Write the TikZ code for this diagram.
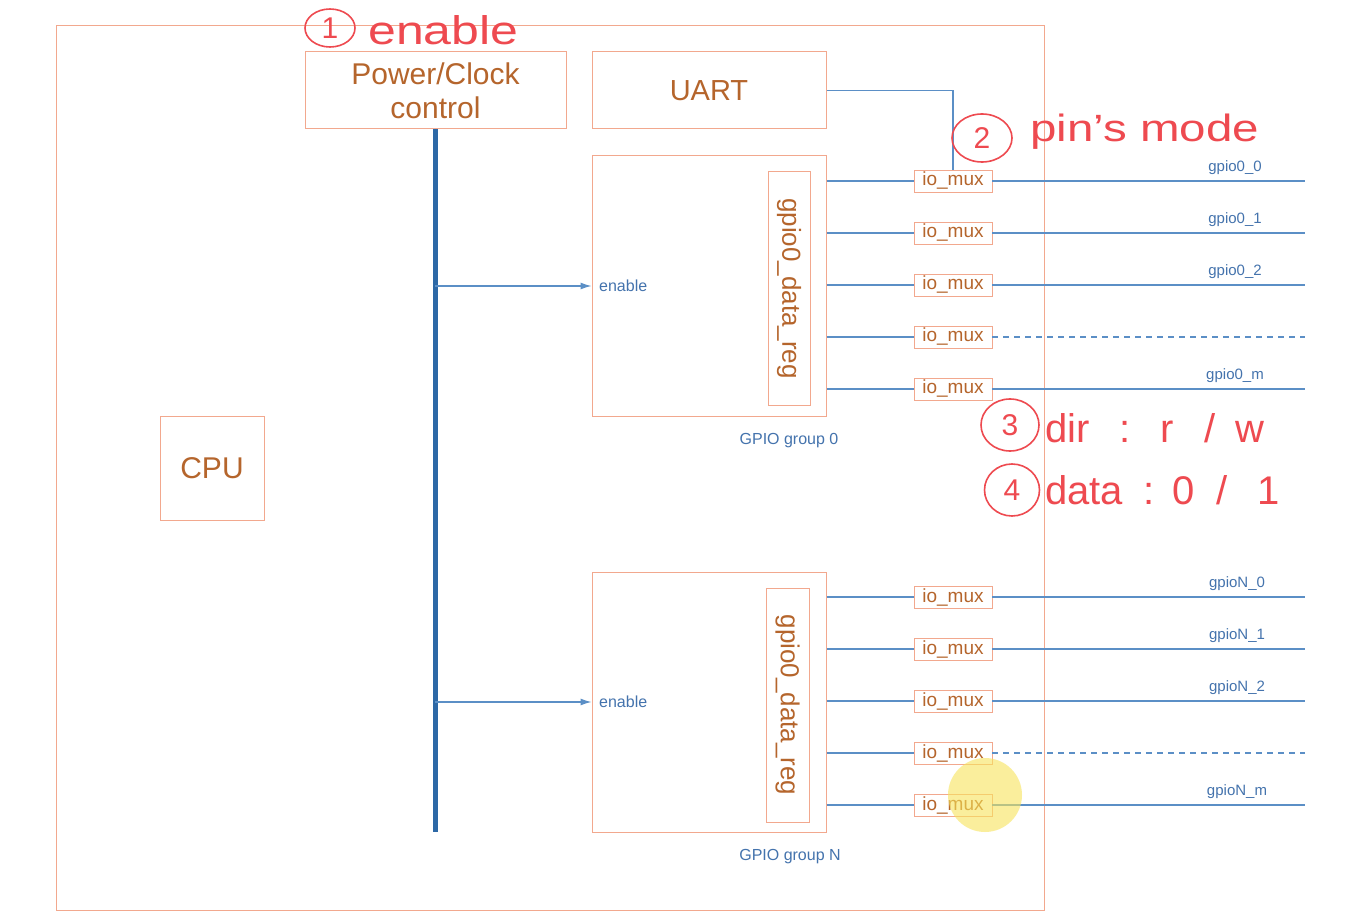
\documentclass[tikz,border=0pt]{standalone}
\usepackage{fontspec}
\usepackage{graphicx}
\setmainfont{Liberation Sans}
\usetikzlibrary{arrows.meta,shapes.geometric}
\definecolor{boxc}{HTML}{F2A88E}
\definecolor{txtc}{HTML}{B5652C}
\definecolor{linec}{HTML}{5B8FC6}
\definecolor{busc}{HTML}{2D68A6}
\definecolor{lblc}{HTML}{4473AD}
\definecolor{redc}{HTML}{EE4A50}
\definecolor{hilite}{HTML}{F7E45A}
\begin{document}
\begin{tikzpicture}[x=1pt,y=-1pt,
  blk/.style={draw=boxc, line width=1pt, text=txtc, inner sep=0pt, align=center},
  mux/.style={draw=boxc, line width=0.9pt, text=txtc, fill=white, minimum width=78pt, minimum height=22pt, inner sep=0pt, font=\fontsize{19}{20}\selectfont},
  wire/.style={draw=linec, line width=1.2pt},
  pinlbl/.style={text=lblc, font=\fontsize{15}{16}\selectfont, inner sep=0pt},
  hand/.style={text=redc, inner sep=0pt, font=\fontsize{40}{42}\selectfont},
  numc/.style={draw=redc, line width=1.6pt, ellipse, inner sep=0pt, text=redc, font=\fontsize{30}{30}\selectfont}]
\useasboundingbox[fill=white] (0,0) rectangle (1355,923);

% outer frame
\node[blk, minimum width=988pt, minimum height=884pt] (outer) at (550,468) {};

% blocks
\node[blk, minimum width=261pt, minimum height=77pt, font=\fontsize{30}{34}\selectfont] (pwr) at (435.5,90.5) {Power/Clock\\control};
\node[blk, minimum width=234pt, minimum height=77pt, font=\fontsize{29}{30}\selectfont] (uart) at (709,90.5) {UART};
\node[blk, minimum width=104pt, minimum height=104pt, font=\fontsize{30}{30}\selectfont] (cpu) at (212,468) {CPU};

\node[blk, minimum width=234pt, minimum height=260pt] (g0) at (709,286) {};
\node[blk, minimum width=42pt, minimum height=233pt, font=\fontsize{26}{26}\selectfont] (reg0) at (789,288.5) {\rotatebox{-90}{gpio0\_data\_reg}};
\node[blk, minimum width=234pt, minimum height=260pt] (gN) at (709,702) {};
\node[blk, minimum width=43pt, minimum height=234pt, font=\fontsize{26}{26}\selectfont] (regN) at (787.5,705) {\rotatebox{-90}{gpio0\_data\_reg}};

\node[pinlbl, font=\fontsize{16}{16}\selectfont] (g0lbl) at (789,441) {GPIO group 0};
\node[pinlbl, font=\fontsize{16}{16}\selectfont] (gNlbl) at (790,857) {GPIO group N};

% bus
\coordinate (busbot) at (435,832);
\coordinate (bus0) at (435,286);
\coordinate (busN) at (435,702);
\draw[busc, line width=5pt] (pwr.south -| busbot) -- (busbot);
\draw[wire, -{Latex[length=11pt,width=7pt]}] (bus0) -- (g0.west);
\draw[wire, -{Latex[length=11pt,width=7pt]}] (busN) -- (gN.west);
\node[pinlbl, anchor=west, font=\fontsize{16}{16}\selectfont] (en0) at (599,286) {enable};
\node[pinlbl, anchor=west, font=\fontsize{16}{16}\selectfont] (enN) at (599,702) {enable};

% group 0 io_mux
\foreach \i/\y/\lab in {0/181/gpio0\_0, 1/233/gpio0\_1, 2/285/gpio0\_2, 4/389/gpio0\_m}{
  \node[mux] (m0\i) at (953,\y) {io\_mux};
  \coordinate (p0\i) at (1305,\y);
  \draw[wire] (m0\i -| g0.east) -- (m0\i.west);
  \draw[wire] (m0\i.east) -- (p0\i);
  \node[pinlbl] (l0\i) at (1235,\y-13) {\lab};
}
\node[mux] (m03) at (953,337) {io\_mux};
\coordinate (p03) at (1305,337);
\draw[wire] (m03 -| g0.east) -- (m03.west);
\draw[wire, dash pattern=on 6pt off 5pt] (m03.east) -- (p03);

% group N io_mux
\foreach \i/\y/\lab in {0/597/gpioN\_0, 1/649/gpioN\_1, 2/701/gpioN\_2, 4/805/gpioN\_m}{
  \node[mux] (mN\i) at (953,\y) {io\_mux};
  \coordinate (pN\i) at (1305,\y);
  \draw[wire] (mN\i -| gN.east) -- (mN\i.west);
  \draw[wire] (mN\i.east) -- (pN\i);
  \node[pinlbl] (lN\i) at (1237,\y-13) {\lab};
}
\node[mux] (mN3) at (953,753) {io\_mux};
\coordinate (pN3) at (1305,753);
\draw[wire] (mN3 -| gN.east) -- (mN3.west);
\draw[wire, dash pattern=on 6pt off 5pt] (mN3.east) -- (pN3);

% UART to first mux
\draw[wire] (uart.east) -| (m00.north);

% cursor highlight
\fill[hilite, opacity=0.6] (985,795) circle (37);

% handwritten annotations
\node[numc, minimum width=50pt, minimum height=38pt] (c1) at (330,28) {1};
\node[hand, anchor=west] (a1) at (368,30) {\scalebox{1.25}[1]{enable}};
\node[numc, minimum width=60pt, minimum height=48pt] (c2) at (982,138) {2};
\node[hand, anchor=west, font=\fontsize{38}{40}\selectfont] (a2) at (1030,132) {\scalebox{1.25}[1]{pin's mode}};
\node[numc, minimum width=58pt, minimum height=52pt] (c3) at (1010,425) {3};
\node[hand, anchor=west] (a3) at (1045,428) {dir\hspace{30pt}:\hspace{30pt}r\hspace{30pt}/\hspace{20pt}w};
\node[numc, minimum width=55pt, minimum height=52pt] (c4) at (1012,490) {4};
\node[hand, anchor=west] (a4) at (1045,490) {data\hspace{20pt}:\hspace{18pt}0\hspace{22pt}/\hspace{30pt}1};
\end{tikzpicture}
\end{document}
